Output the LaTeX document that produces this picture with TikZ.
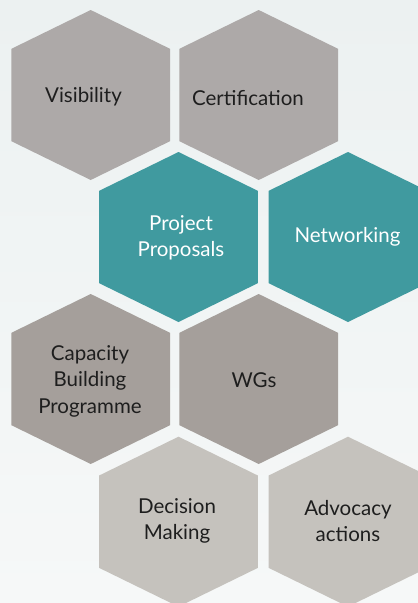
\documentclass[tikz,border=0pt]{standalone}
\usepackage{fontspec}
\setmainfont{Lato}
\definecolor{bgtop}{HTML}{ECF1F1}
\definecolor{bgbot}{HTML}{F6F8F8}
\definecolor{hexgray}{HTML}{ADA9A8}
\definecolor{hexteal}{HTML}{409A9F}
\definecolor{hextaupe}{HTML}{A59F9B}
\definecolor{hexlight}{HTML}{C5C2BD}
\definecolor{txtdark}{HTML}{1E1E1E}
\newcommand{\hexcell}[3]{%
  \fill[#3] (#1,#2-85) -- (#1+79.3,#2-46.2) -- (#1+79.3,#2+46.2) -- (#1,#2+85)
    -- (#1-79.3,#2+46.2) -- (#1-79.3,#2-46.2) -- cycle;}
\begin{document}
\begin{tikzpicture}[x=1pt,y=-1pt,
  lbl/.style={align=center,font=\fontsize{20.5}{26.5}\selectfont,text=txtdark,inner sep=0pt},
  lblw/.style={lbl,text=white}]
\useasboundingbox (0,0) rectangle (418,603);
\shade[top color=bgtop,bottom color=bgbot] (0,0) rectangle (418,603);
\hexcell{90.7}{95}{hexgray}
\hexcell{258.7}{95}{hexgray}
\hexcell{178.5}{237}{hexteal}
\hexcell{348}{237}{hexteal}
\hexcell{90.7}{379}{hextaupe}
\hexcell{258.7}{379}{hextaupe}
\hexcell{178.5}{521.7}{hexlight}
\hexcell{348}{521.7}{hexlight}
\node[lbl] (vis) at (83.5,97) {Visibility};
\node[lbl] (cert) at (248,98) {Certification};
\node[lblw] (proj) at (181,238) {Project\\Proposals};
\node[lblw] (net) at (347.5,237) {Networking};
\node[lbl] (cap) at (90,381) {Capacity\\Building\\Programme};
\node[lbl] (wgs) at (254,380) {WGs};
\node[lbl] (dec) at (177,521) {Decision\\Making};
\node[lbl] (adv) at (348,521) {Advocacy\\actions};
\end{tikzpicture}
\end{document}
